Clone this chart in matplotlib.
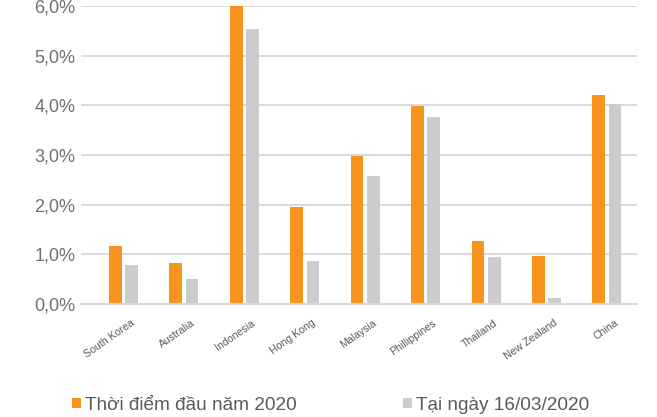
import numpy as np
import matplotlib
matplotlib.use("Agg")
import matplotlib.pyplot as plt
from matplotlib.patches import Patch
from matplotlib.transforms import ScaledTranslation

countries = ["South Korea", "Australia", "Indonesia", "Hong Kong", "Malaysia",
             "Phillippines", "Thailand", "New Zealand", "China"]
start_2020 = [1.16, 0.82, 6.00, 1.95, 2.98, 3.98, 1.27, 0.97, 4.20]
on_16_03_2020 = [0.79, 0.50, 5.54, 0.87, 2.58, 3.76, 0.94, 0.12, 4.02]
series_names = ["Thời điểm đầu năm 2020", "Tại ngày 16/03/2020"]
yticks = [0, 1, 2, 3, 4, 5, 6]

ORANGE = "#F7941D"
GREY = "#CCCCCC"
GRID = "#D9D9D9"
TEXT = "#707070"

plt.rcParams["font.family"] = ["Liberation Sans", "DejaVu Sans"]

fig = plt.figure(figsize=(6.57, 4.17), dpi=100)
ax = fig.add_axes([81 / 657, 1 - 304 / 417, 556 / 657, 298 / 417])

x = np.arange(len(countries))
w = 0.21
off = 0.135
ax.bar(x - off, start_2020, width=w, color=ORANGE, zorder=3)
ax.bar(x + off, on_16_03_2020, width=w, color=GREY, zorder=3)

ax.set_xlim(-0.704, 8.497)
ax.set_ylim(0, 6.0)
ax.set_yticks(yticks)
ax.set_yticklabels([f"{v:.1f}%".replace(".", ",") for v in yticks],
                   fontsize=13, color=TEXT)
ax.yaxis.grid(True, color=GRID, linewidth=1.4, zorder=0)
ax.set_axisbelow(True)
ax.tick_params(axis="y", length=0, pad=4)

ax.set_xticks(x)
ax.set_xticklabels(countries, rotation=35, ha="right", rotation_mode="anchor",
                   fontsize=7.6, color="#5A5A5A")
ax.tick_params(axis="x", length=0, pad=10)
shift = ScaledTranslation(7 / 100, 0, fig.dpi_scale_trans)
for lbl in ax.get_xticklabels():
    lbl.set_transform(lbl.get_transform() + shift)

for s in ["top", "right", "left"]:
    ax.spines[s].set_visible(False)
ax.spines["bottom"].set_color(GRID)
ax.spines["bottom"].set_linewidth(1.6)
ax.spines["bottom"].set_zorder(4)

handles = [Patch(facecolor=ORANGE, edgecolor="none"),
           Patch(facecolor=GREY, edgecolor="none")]
fig.legend(handles, series_names, loc="center left",
           bbox_to_anchor=(72 / 657, 1 - 405.5 / 417), ncol=2, frameon=False,
           fontsize=13.7, labelcolor="#5A5A5A", handlelength=0.47,
           handleheight=0.47, handletextpad=0.2, columnspacing=5.6,
           borderpad=0, borderaxespad=0)

fig.savefig("out.png", dpi=100)
